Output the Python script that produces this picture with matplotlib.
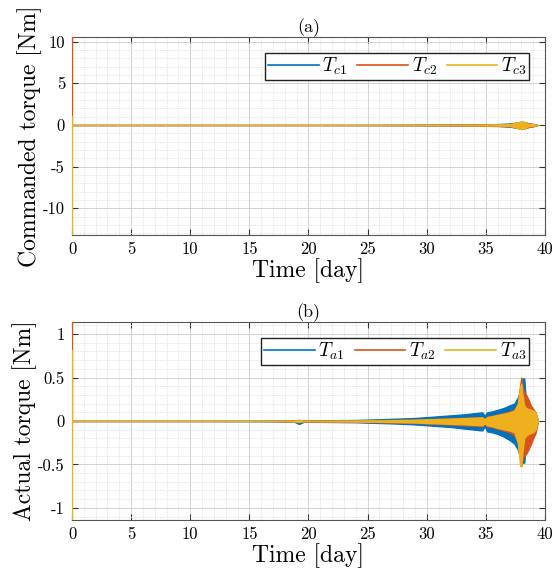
import matplotlib
matplotlib.use("Agg")
import matplotlib.pyplot as plt
from matplotlib.ticker import MultipleLocator, FuncFormatter

plt.rcParams['font.family'] = 'cmr10'
plt.rcParams['mathtext.fontset'] = 'cm'
plt.rcParams['axes.unicode_minus'] = False

colors = ['#0072BD', '#D95319', '#EDB120']

# ---- panel (a): commanded torque, envelope of the oscillation [Nm]
t_a = [0.05, 10, 20, 25, 30, 32, 34, 35, 36, 37, 37.6, 38.0, 38.3, 38.6, 39.0, 39.4]
tc1_up = [0.005, 0.005, 0.01, 0.02, 0.04, 0.06, 0.08, 0.09, 0.12, 0.18, 0.3, 0.4, 0.35, 0.2, 0.12, 0.0]
tc1_lo = [-0.005, -0.005, -0.01, -0.02, -0.04, -0.06, -0.09, -0.1, -0.13, -0.2, -0.35, -0.45, -0.4, -0.25, -0.15, 0.0]
tc2_up = [0.003, 0.003, 0.006, 0.012, 0.03, 0.04, 0.06, 0.07, 0.09, 0.12, 0.25, 0.35, 0.3, 0.2, 0.12, 0.0]
tc2_lo = [-0.003, -0.003, -0.008, -0.015, -0.04, -0.05, -0.07, -0.08, -0.1, -0.15, -0.3, -0.4, -0.35, -0.25, -0.15, 0.0]
tc3_up = [0.003, 0.003, 0.005, 0.01, 0.025, 0.035, 0.05, 0.06, 0.08, 0.1, 0.3, 0.45, 0.35, 0.15, 0.1, 0.0]
tc3_lo = [-0.003, -0.003, -0.005, -0.01, -0.025, -0.035, -0.05, -0.06, -0.08, -0.1, -0.35, -0.5, -0.4, -0.15, -0.1, 0.0]
# initial transient at t=0 (min, max)
spike_a = [None, (0.0, 10.56), (-13.2, 1.0)]

# ---- panel (b): actual torque envelope [Nm]
t_b = [0.05, 5, 10, 15, 17, 18, 18.8, 19.2, 19.6, 20, 22, 24, 25, 27, 29, 30, 31, 32, 33, 34,
       34.7, 34.9, 35.1, 35.5, 36, 36.5, 37, 37.4, 37.7, 37.9, 38.0, 38.1, 38.25, 38.4, 38.6,
       38.8, 39.0, 39.2, 39.4]
ta1_up = [0.002, 0.002, 0.002, 0.003, 0.004, 0.006, 0.008, 0.012, 0.008, 0.008, 0.01, 0.012, 0.016,
          0.025, 0.035, 0.045, 0.055, 0.065, 0.075, 0.09, 0.1, 0.06, 0.1, 0.11, 0.13, 0.15, 0.18,
          0.2, 0.27, 0.35, 0.45, 0.49, 0.49, 0.2, 0.15, 0.12, 0.12, 0.1, 0.0]
ta1_lo = [-0.002, -0.002, -0.002, -0.003, -0.005, -0.008, -0.01, -0.035, -0.01, -0.01, -0.012, -0.015,
          -0.02, -0.028, -0.04, -0.05, -0.06, -0.07, -0.085, -0.1, -0.11, -0.06, -0.12, -0.13, -0.15,
          -0.18, -0.22, -0.26, -0.33, -0.42, -0.5, -0.48, -0.48, -0.25, -0.2, -0.17, -0.15, -0.12, 0.0]
ta2_up = [0.001, 0.001, 0.001, 0.001, 0.002, 0.003, 0.004, 0.005, 0.004, 0.004, 0.005, 0.007, 0.008,
          0.012, 0.016, 0.02, 0.025, 0.03, 0.035, 0.04, 0.045, 0.02, 0.05, 0.06, 0.075, 0.09, 0.11,
          0.13, 0.2, 0.42, 0.5, 0.4, 0.33, 0.3, 0.25, 0.18, 0.14, 0.1, 0.0]
ta2_lo = [-0.001, -0.001, -0.001, -0.001, -0.002, -0.003, -0.005, -0.01, -0.005, -0.005, -0.007, -0.009,
          -0.011, -0.016, -0.022, -0.03, -0.035, -0.04, -0.048, -0.055, -0.06, -0.03, -0.06, -0.07,
          -0.09, -0.11, -0.13, -0.16, -0.25, -0.45, -0.52, -0.45, -0.4, -0.38, -0.33, -0.27, -0.2,
          -0.14, 0.0]
ta3_up = [0.001, 0.001, 0.001, 0.001, 0.002, 0.004, 0.006, 0.012, 0.005, 0.004, 0.005, 0.006, 0.007,
          0.01, 0.015, 0.02, 0.024, 0.028, 0.033, 0.038, 0.042, 0.02, 0.045, 0.055, 0.07, 0.085, 0.1,
          0.12, 0.2, 0.4, 0.43, 0.3, 0.18, 0.15, 0.14, 0.13, 0.12, 0.1, 0.0]
ta3_lo = [-0.001, -0.001, -0.001, -0.001, -0.002, -0.004, -0.006, -0.012, -0.005, -0.004, -0.006, -0.007,
          -0.009, -0.013, -0.018, -0.024, -0.028, -0.033, -0.038, -0.045, -0.05, -0.025, -0.05, -0.06,
          -0.08, -0.095, -0.11, -0.13, -0.25, -0.52, -0.5, -0.35, -0.2, -0.17, -0.15, -0.14, -0.13,
          -0.1, 0.0]
spike_b = [None, (0.0, 1.14), (-1.14, 0.8)]

panels = [
    dict(t=t_a, up=[tc1_up, tc2_up, tc3_up], lo=[tc1_lo, tc2_lo, tc3_lo], spike=spike_a,
         labels=[r'$T_{c1}$', r'$T_{c2}$', r'$T_{c3}$'], ylim=(-13.2, 10.56),
         major=5, minor=1, ylabel='Commanded torque [Nm]', title='(a)',
         rect=[0.1295, 0.5927, 0.8507, 0.3432]),
    dict(t=t_b, up=[ta1_up, ta2_up, ta3_up], lo=[ta1_lo, ta2_lo, ta3_lo], spike=spike_b,
         labels=[r'$T_{a1}$', r'$T_{a2}$', r'$T_{a3}$'], ylim=(-1.14, 1.14),
         major=0.5, minor=0.1, ylabel='Actual torque [Nm]', title='(b)',
         rect=[0.1295, 0.0988, 0.8507, 0.3432]),
]

fmt = FuncFormatter(lambda v, pos: '%g' % round(v, 6))

fig = plt.figure(figsize=(5.56, 5.77), dpi=100)

for p in panels:
    ax = fig.add_axes(p['rect'])
    handles = []
    for i in range(3):
        ax.fill_between(p['t'], p['lo'][i], p['up'][i], color=colors[i], lw=0.9,
                        edgecolor=colors[i], zorder=2 + i)
        if p['spike'][i] is not None:
            lo, hi = p['spike'][i]
            ax.plot([0, 0], [lo, hi], color=colors[i], lw=1.6, zorder=2 + i)
        h, = ax.plot([], [], color=colors[i], lw=1.2, label=p['labels'][i])
        handles.append(h)

    ax.set_xlim(0, 40)
    ax.set_ylim(*p['ylim'])
    ax.xaxis.set_major_locator(MultipleLocator(5))
    ax.xaxis.set_minor_locator(MultipleLocator(1))
    ax.yaxis.set_major_locator(MultipleLocator(p['major']))
    ax.yaxis.set_minor_locator(MultipleLocator(p['minor']))
    ax.xaxis.set_major_formatter(fmt)
    ax.yaxis.set_major_formatter(fmt)
    ax.grid(which='major', color='#cccccc', lw=0.6, ls='-')
    ax.grid(which='minor', color='#dddddd', lw=0.5, ls=(0, (2, 1.5)))
    ax.set_axisbelow(True)
    ax.tick_params(which='both', direction='in', top=True, right=True, labelsize=12,
                   color='#333333')
    ax.tick_params(which='major', length=4, pad=5)
    ax.tick_params(which='minor', length=0)
    for s in ax.spines.values():
        s.set_color('#555555')
        s.set_linewidth(0.8)

    ax.set_xlabel('Time [day]', fontsize=17, labelpad=1)
    ax.set_ylabel(p['ylabel'], fontsize=17, labelpad=1)
    ax.set_title(p['title'], fontsize=13, pad=3)
    ax.legend(handles=handles, loc='upper right', ncol=3, fontsize=14, frameon=True,
              fancybox=False, edgecolor='#222222', framealpha=1, handlelength=2.6,
              handletextpad=0.2, columnspacing=0.5, borderpad=0.15, borderaxespad=0.8)

fig.savefig('out.png', dpi=100)
